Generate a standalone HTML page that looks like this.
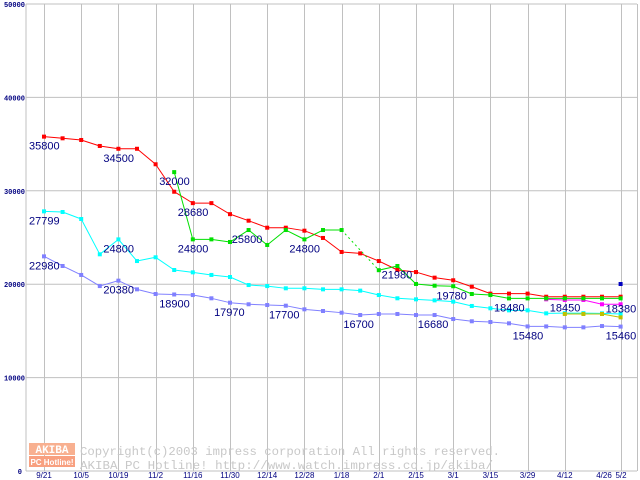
<!DOCTYPE html>
<html><head><meta charset="utf-8"><style>
html,body{margin:0;padding:0;background:#fff;}
svg{display:block;}
</style></head><body>
<svg id="chart" width="640" height="480" xmlns="http://www.w3.org/2000/svg">
<g id="grid"></g>
<g id="watermark">
  <rect x="29" y="443" width="46" height="12" fill="#f8b090"/>
  <rect x="29" y="456" width="46" height="11" fill="#f8a080"/>
  <text x="52" y="453" font-family="Liberation Mono, monospace" font-size="11" font-weight="bold" fill="#fff" text-anchor="middle">AKIBA</text>
  <text x="52" y="465" font-family="Liberation Sans, sans-serif" font-size="8" font-weight="bold" fill="#fff" text-anchor="middle">PC Hotline!</text>
  <text x="80" y="455" font-family="Liberation Mono, monospace" font-size="12" textLength="420" lengthAdjust="spacingAndGlyphs" fill="#c8c8c8">Copyright(c)2003 impress corporation All rights reserved.</text>
  <text x="80" y="469" font-family="Liberation Mono, monospace" font-size="12" textLength="413" lengthAdjust="spacingAndGlyphs" fill="#c8c8c8">AKIBA PC Hotline!  http://www.watch.impress.co.jp/akiba/</text>
</g>
<g id="series"></g>
<g id="labels"></g>
</svg>
<script>
const xTicks = ["9/21","10/5","10/19","11/2","11/16","11/30","12/14","12/28","1/18","2/1","2/15","3/1","3/15","3/29","4/12","4/26","5/2"];
const yTicks = [0,10000,20000,30000,40000,50000];
const redVals = [35800,35620,35440,34800,34500,34500,32840,29900,28680,28680,27500,26800,26050,26050,25730,24950,23450,23300,22480,21520,21300,20700,20420,19730,18990,18990,18990,18660,18660,18660,18660,18660];
const greenVals = [null,null,null,null,null,null,null,32000,24800,24800,24520,25800,24200,25800,24800,25800,25800,null,21500,21950,20020,19840,19780,18950,18840,18480,18480,18480,18480,18480,18480,18480];
const cyanVals = [27799,27730,26980,23200,24800,22480,22880,21520,21270,20990,20770,19910,19800,19560,19560,19450,19450,19310,18840,18490,18380,18270,18130,17670,17420,17200,17200,16880,16900,16900,16880,16810];
const blueVals = [22980,21950,20990,19800,20380,19450,18950,18900,18840,18490,18020,17850,17770,17700,17310,17130,16950,16700,16810,16810,16700,16700,16270,16030,15950,15810,15480,15480,15380,15380,15520,15460];
const magentaVals = [null,null,null,null,null,null,null,null,null,null,null,null,null,null,null,null,null,null,null,null,null,null,null,null,null,null,null,18380,18310,18310,17850,17850];
const oliveVals = [null,null,null,null,null,null,null,null,null,null,null,null,null,null,null,null,null,null,null,null,null,null,null,null,null,null,null,null,16810,16810,16810,16450];
const navyVals = [null,null,null,null,null,null,null,null,null,null,null,null,null,null,null,null,null,null,null,null,null,null,null,null,null,null,null,null,null,null,null,20020];
const valueLabels = [
 {t:"35800",k:0,v:35800},{t:"34500",k:4,v:34500},{t:"32000",k:7,v:32000},{t:"28680",k:8,v:28680},
 {t:"24800",k:8,v:24800},{t:"25800",k:10.9,v:25800},{t:"24800",k:14,v:24800},{t:"27799",k:0,v:27799},
 {t:"24800",k:4,v:24800},{t:"22980",k:0,v:22980},{t:"20380",k:4,v:20380},{t:"18900",k:7,v:18900},
 {t:"17970",k:9.95,v:17970},{t:"17700",k:12.9,v:17700},{t:"16700",k:16.9,v:16700},{t:"21980",k:18.96,v:21980},
 {t:"16680",k:20.9,v:16680},{t:"19780",k:21.9,v:19780},{t:"18480",k:25,v:18480},{t:"15480",k:26,v:15480},
 {t:"18450",k:28,v:18450},{t:"18380",k:31,v:18380},{t:"15460",k:31,v:15460}
];
const NS="http://www.w3.org/2000/svg";
const X0=44, STEP=18.6, Y0=471, YS=467/50000;
function xs(k){return X0+STEP*k;}
function ys(v){return Y0-v*YS;}
function mk(tag,attrs,parent){const e=document.createElementNS(NS,tag);for(const a in attrs)e.setAttribute(a,attrs[a]);parent.appendChild(e);return e;}
const grid=document.getElementById('grid');
yTicks.forEach(v=>{
 const l=mk('line',{x1:26,x2:637,y1:ys(v),y2:ys(v),stroke:'#c0c0c0','stroke-width':1},grid);
 
 
 const t=mk('text',{x:v===0?22:25,y:ys(v)+3,'font-family':'Liberation Mono, monospace','font-size':7,'font-weight':'bold',fill:'#000080','text-anchor':'end'},grid);
 t.textContent=String(v);
 
 
});
mk('line',{x1:26,x2:26,y1:4,y2:471,stroke:'#c0c0c0'},grid);
mk('line',{x1:637.5,x2:637.5,y1:4,y2:471,stroke:'#c0c0c0'},grid);
xTicks.forEach((lab,i)=>{
 const x = i===16 ? 621 : (i===15 ? xs(31) : xs(i*2));
 if(i<16){
  const l=mk('line',{x1:Math.round(x)+0.5,x2:Math.round(x)+0.5,y1:4,y2:471,stroke:'#c0c0c0'},grid);
  
  
 }
 const t=mk('text',{x:i===15?604:(i===16?621:x),y:478,'font-family':'Liberation Sans, sans-serif','font-size':8,fill:'#000080','text-anchor':'middle'},grid);
 t.textContent=lab;
 
 
});
const series=document.getElementById('series');
function drawSeries(vals,color,name){
 const g=mk('g',{},series);
 
 
 let prev=null;
 for(let k=0;k<vals.length;k++){
  if(vals[k]==null)continue;
  if(prev!==null){
   const attrs={x1:xs(prev),y1:ys(vals[prev]),x2:xs(k),y2:ys(vals[k]),stroke:color,'stroke-width':1};
   if(k-prev>1){ attrs['stroke-dasharray']='2,3'; }
   const l=mk('line',attrs,g);
   
   
  }
  prev=k;
 }
 for(let k=0;k<vals.length;k++){
  if(vals[k]==null)continue;
  const r=mk('rect',{x:xs(k)-2,y:ys(vals[k])-2,width:4,height:4,fill:color},g);
  
  
 }
}
drawSeries(blueVals,'#8080ff','series-blue');
drawSeries(cyanVals,'#00ffff','series-cyan');
drawSeries(oliveVals,'#c0c000','series-olive');
drawSeries(magentaVals,'#ff00ff','series-magenta');
drawSeries(redVals,'#ff0000','series-red');
drawSeries(greenVals,'#00e000','series-green');
drawSeries(navyVals,'#0000c0','series-navy');
const labels=document.getElementById('labels');
valueLabels.forEach(o=>{
 const t=mk('text',{x:xs(o.k)-15,y:ys(o.v)+13,'font-family':'Liberation Sans, sans-serif','font-size':11,fill:'#000080'},labels);
 t.textContent=o.t;
 
 
});
</script>
</body></html>
